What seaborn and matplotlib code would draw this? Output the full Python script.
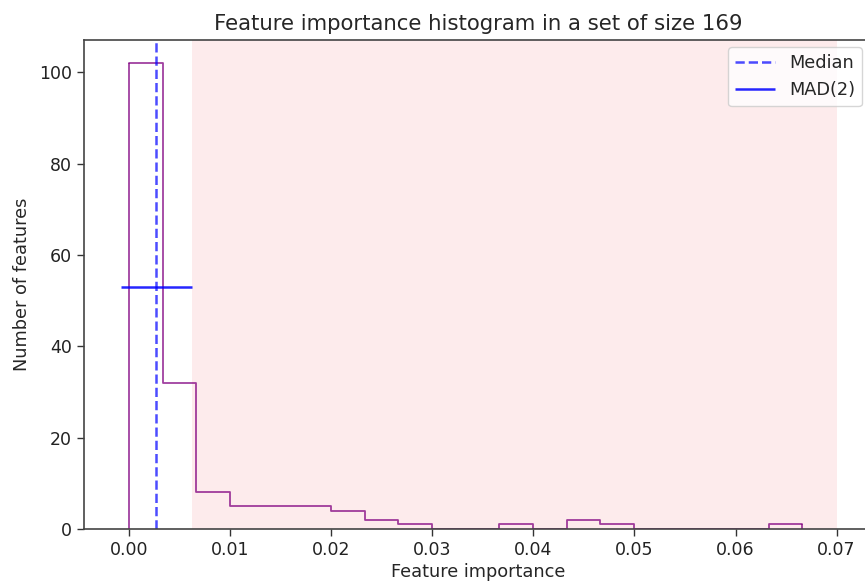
import numpy as np
import pandas as pd
import matplotlib
matplotlib.use("Agg")
import matplotlib.pyplot as plt
import seaborn as sns

# Histogram of feature importances (20 equal-width bins)
bin_lo = 0.0
bin_hi = 0.0666
n_bins = 20
counts = [102, 32, 8, 5, 5, 5, 4, 2, 1, 0, 0, 1, 0, 2, 1, 0, 0, 0, 0, 1]

median_value = 0.0027
mad_lo = -0.0008
mad_hi = 0.0062
mad_y = 53
threshold_lo = 0.0062
threshold_hi = 0.07

edges = np.linspace(bin_lo, bin_hi, n_bins + 1)
centers = (edges[:-1] + edges[1:]) / 2
df = pd.DataFrame({"importance": centers, "count": counts})

sns.set_style("ticks")
plt.rcParams["font.family"] = ["DejaVu Sans"]

fig = plt.figure(figsize=(8.65, 5.84), dpi=100)
ax = fig.add_axes([84 / 865, 55 / 584, 788 / 865, 489 / 584])

hist_color = "purple"
ax.axvspan(threshold_lo, threshold_hi, color="#fde9ea", alpha=0.9, lw=0, zorder=0)
sns.histplot(data=df, x="importance", weights="count", bins=n_bins,
             binrange=(bin_lo, bin_hi),
             element="step", fill=False, color=hist_color, alpha=0.75,
             linewidth=1.3, ax=ax)
# close the outer edges of the step outline down to the baseline
ax.vlines([edges[0], edges[-1]], 0, [counts[0], counts[-1]],
          color=hist_color, alpha=0.75, lw=1.3)
ax.axvline(median_value, color="blue", ls="--", lw=1.8, alpha=0.7, label="Median")
ax.hlines(mad_y, mad_lo, mad_hi, color="blue", lw=1.8, alpha=0.85, label="MAD(2)")

ax.set_xlim(-0.00445, 0.0735)
ax.set_ylim(0, 107.1)
ax.set_xticks(np.arange(0, 0.0701, 0.01))
ax.set_xticklabels([f"{t:.2f}" for t in np.arange(0, 0.0701, 0.01)])
ax.set_yticks(range(0, 101, 20))
ax.tick_params(labelsize=12.5, length=5, width=1, colors="#333333", labelcolor="#222222")
for s in ax.spines.values():
    s.set_color("#444444")
    s.set_linewidth(1.2)
ax.spines["right"].set_visible(False)

ax.set_title("Feature importance histogram in a set of size 169", fontsize=15.3, pad=7)
ax.set_xlabel("Feature importance", fontsize=12.8, labelpad=3)
ax.set_ylabel("Number of features", fontsize=12.8, labelpad=6)
leg = ax.legend(loc="upper right", bbox_to_anchor=(862 / 865, 1 - 47 / 584),
                bbox_transform=fig.transFigure, borderaxespad=0,
                fontsize=12.8, handlelength=2.2, frameon=True)

fig.savefig("out.png", dpi=100)
